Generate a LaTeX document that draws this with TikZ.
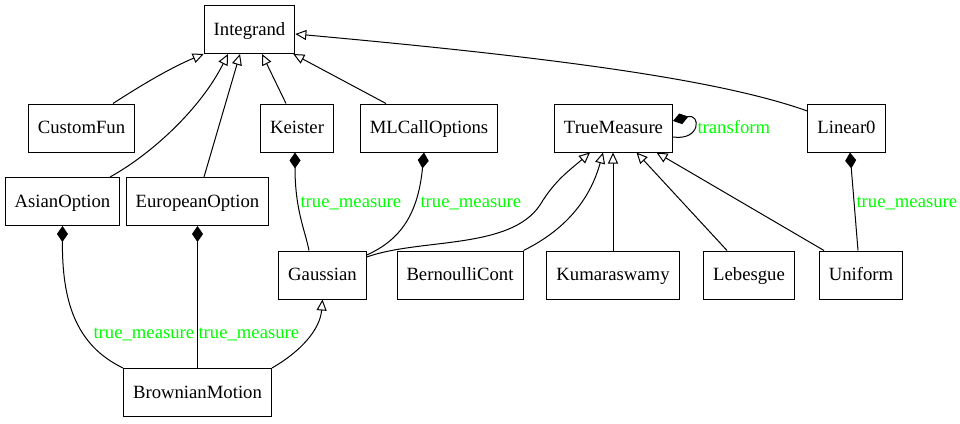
\documentclass[tikz,border=0pt]{standalone}
\usepackage{fontspec}
\setmainfont{Liberation Serif}
\usetikzlibrary{arrows.meta}
\definecolor{lblgreen}{RGB}{0,255,0}

\begin{document}
\begin{tikzpicture}[x=1pt, y=-1pt, font=\fontsize{18.7pt}{22pt}\selectfont,
    cls/.style={draw, line width=1pt, rectangle, minimum height=48pt, inner xsep=9.5pt, inner ysep=0pt, text height=13pt, text depth=2pt},
    inh/.style={line width=1pt, -{Triangle[open, length=11pt, width=10pt]}},
    comp/.style={line width=1pt, {Diamond[length=16pt, width=11pt]}-},
    lbl/.style={text=lblgreen, anchor=base west, inner sep=0pt}]
    \useasboundingbox (0,0) rectangle (960,423);

    \node[cls] (int) at (249.5, 29.5) {Integrand};
    \node[cls] (cf) at (81.5, 128) {CustomFun};
    \node[cls] (kei) at (297, 128) {Keister};
    \node[cls] (mlc) at (429, 128) {MLCallOptions};
    \node[cls] (tm) at (613.5, 128) {TrueMeasure};
    \node[cls] (lin) at (846.5, 128) {Linear0};
    \node[cls] (asian) at (62.5, 201.5) {AsianOption};
    \node[cls] (euro) at (197.5, 201.5) {EuropeanOption};
    \node[cls] (gau) at (322.5, 275) {Gaussian};
    \node[cls] (ber) at (460, 275) {BernoulliCont};
    \node[cls] (kum) at (613, 275) {Kumaraswamy};
    \node[cls] (leb) at (749, 275) {Lebesgue};
    \node[cls] (uni) at (861, 275) {Uniform};
    \node[cls] (bm) at (197.5, 392.5) {BrownianMotion};

    % subclasses of Integrand
    \draw[inh] ([xshift=31.5]cf.north) .. controls (140,86) and (170,68) .. (int.south west);
    \draw[inh] ([xshift=47.5]asian.north) .. controls (150,155) and (200,110) .. ([xshift=-21.5]int.south);
    \draw[inh] ([xshift=6.5]euro.north) -- ([xshift=-9.5]int.south);
    \draw[inh] ([xshift=-11]kei.north) -- ([xshift=12.5]int.south);
    \draw[inh] ([xshift=-43]mlc.north) -- ([xshift=-2]int.south east);
    \draw[inh] ([yshift=17]lin.west) .. controls (720,80) and (560,58) .. ([yshift=-4.5]int.east);

    % subclasses of TrueMeasure
    \draw[inh] ([yshift=18]gau.east) .. controls (420,238) and (510,250) .. (540,205)
        .. controls (555,180) and (570,170) .. ([xshift=-23.5]tm.south);
    \draw[inh] (ber.north east) .. controls (565,230) and (590,200) .. ([xshift=-10.5]tm.south);
    \draw[inh] (kum.north) -- (kum.north |- tm.south);
    \draw[inh] ([xshift=-22]leb.north) -- ([xshift=23]tm.south);
    \draw[inh] ([xshift=-37]uni.north) -- ([xshift=43]tm.south);
    \draw[inh] (bm.north east) .. controls (300,352) and (320,330) .. (gau.south);

    % true_measure members
    \draw[comp] ([xshift=-2]kei.south) .. controls (295,210) and (305,230) .. ([xshift=-13.5]gau.north)
        node[lbl] (l1) at (300,207) {true\_measure};
    \draw[comp] ([xshift=-5]mlc.south) .. controls (418,215) and (400,240) .. ([yshift=20]gau.east)
        node[lbl] (l2) at (420,207) {true\_measure};
    \draw[comp] ([xshift=3.5]lin.south) -- ([xshift=-3]uni.north)
        node[lbl] (l3) at (856,207) {true\_measure};
    \draw[comp] (asian.south) .. controls (62,300) and (75,345) .. (bm.north west)
        node[lbl] (l4) at (93,338) {true\_measure};
    \draw[comp] (euro.south) -- (bm.north)
        node[lbl] (l5) at (198,338) {true\_measure};
    \draw[comp] ([yshift=7]tm.east) .. controls (701,113) and (701,141) .. ([yshift=-9]tm.east)
        node[lbl] (l6) at (697,133) {transform};
\end{tikzpicture}
\end{document}
